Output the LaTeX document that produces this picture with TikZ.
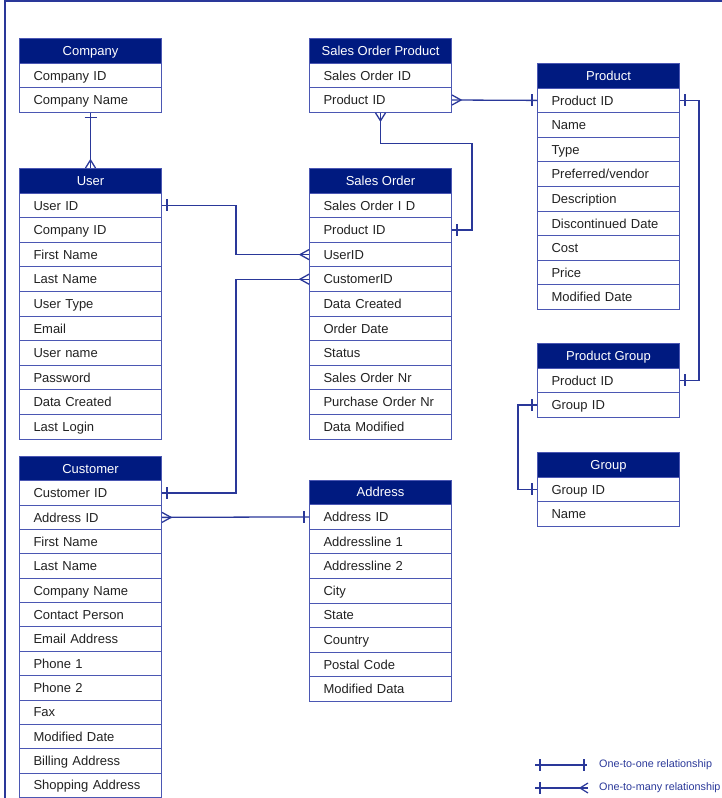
\documentclass[tikz,border=0pt]{standalone}
\usepackage{fontspec}
\setmainfont{Liberation Sans}
\usetikzlibrary{calc}
\definecolor{hdr}{HTML}{001A80}
\definecolor{bdr}{HTML}{4B57B3}
\definecolor{cn}{HTML}{2A3899}
\definecolor{txt}{HTML}{222222}
\newcommand\erStrut{\rule[-2.7pt]{0pt}{14.7pt}}
\newcommand\erTickV[1]{\draw[conn] #1 ++(0,-6) -- ++(0,12);}
\newcommand\erTickH[1]{\draw[conn] #1 ++(-6,0) -- ++(12,0);}
\newcommand\erCrowL[1]{\draw[conn] #1 ++(0,-5) -- ++(-9,5) -- ++(9,5);}
\newcommand\erCrowR[1]{\draw[conn] #1 ++(0,-5) -- ++(9,5) -- ++(-9,5);}
\newcommand\erCrowUp[1]{\draw[conn] #1 ++(-5,0) -- ++(5,-8) -- ++(5,8);}
\newcommand\erCrowDown[1]{\draw[conn] #1 ++(-5,0) -- ++(5,8) -- ++(5,-8);}
\newcommand\ertable[6]{%
  \node[hdrbox, minimum height=#5pt] (#1h) at (#2,#3) {#4};
  \foreach \t [count=\i] in {#6}
    \node[rowbox, minimum height=#5pt] (#1\i) at (#2,{#3+\i*#5}) {\t};
}
\begin{document}
\begin{tikzpicture}[x=1pt,y=-1pt,
  rowbox/.style={draw=bdr, line width=1pt, fill=white, text width=142pt,
    inner xsep=0pt, inner ysep=0pt, align=left, anchor=north west, text=txt,
    font=\fontsize{13}{15}\selectfont, execute at begin node=\hspace*{14pt}\erStrut},
  hdrbox/.style={draw=bdr, line width=1pt, fill=hdr, minimum width=142pt,
    inner sep=0pt, anchor=north west, text=white, font=\fontsize{13}{15}\selectfont,
    execute at begin node=\erStrut},
  conn/.style={draw=cn, line width=1.3pt},
  legtext/.style={anchor=west, text=cn, inner sep=0pt, font=\fontsize{10.8}{12}\selectfont}]
\useasboundingbox (0,0) rectangle (722,798);
\draw[cn, line width=1.2pt] (5,798) -- (5,1) -- (722,1);

\ertable{co}{19}{38}{Company}{24.6}{Company ID,Company Name}
\ertable{us}{19}{168}{User}{24.6}{User ID,Company ID,First Name,Last Name,User Type,Email,User name,Password,Data Created,Last Login}
\ertable{cu}{19}{456}{Customer}{24.35}{Customer ID,Address ID,First Name,Last Name,Company Name,Contact Person,Email Address,Phone 1,Phone 2,Fax,Modified Date,Billing Address,Shopping Address}
\ertable{sop}{309}{38}{Sales Order Product}{24.6}{Sales Order ID,Product ID}
\ertable{so}{309}{168}{Sales Order}{24.6}{Sales Order I D,Product ID,UserID,CustomerID,Data Created,Order Date,Status,Sales Order Nr,Purchase Order Nr,Data Modified}
\ertable{ad}{309}{479.5}{Address}{24.6}{Address ID,Addressline 1,Addressline 2,City,State,Country,Postal Code,Modified Data}
\ertable{pr}{537}{63}{Product}{24.6}{Product ID,Name,Type,Preferred/vendor,Description,Discontinued Date,Cost,Price,Modified Date}
\ertable{pg}{537}{343}{Product Group}{24.6}{Product ID,Group ID}
\ertable{gr}{537}{452}{Group}{24.6}{Group ID,Name}

% Company - User
\draw[conn] (co2.south) -- (ush.north);
\erTickH{($(co2.south)+(0,5)$)}
\erCrowUp{(ush.north)}
% User - Sales Order
\draw[conn] (us1.east) -- ++(74,0) |- (so3.west);
\erTickV{($(us1.east)+(5,0)$)}
\erCrowL{(so3.west)}
% Customer - Sales Order
\draw[conn] (cu1.east) -- ++(74,0) |- (so4.west);
\erTickV{($(cu1.east)+(5,0)$)}
\erCrowL{(so4.west)}
% Customer - Address
\draw[conn] (cu2.east) -- (ad1.west);
\erCrowR{(cu2.east)}
\erTickV{($(ad1.west)+(-5,0)$)}
% Sales Order Product - Sales Order
\draw[conn] (sop2.south) -- ++(0,31) -| ($(so2.east)+(20,0)$) -- (so2.east);
\erCrowDown{(sop2.south)}
\erTickV{($(so2.east)+(5,0)$)}
% Sales Order Product - Product
\draw[conn] (sop2.east) -- (pr1.west);
\erCrowR{(sop2.east)}
\erTickV{($(pr1.west)+(-5,0)$)}
% Product - Product Group
\draw[conn] (pr1.east) -- ++(19,0) |- (pg1.east);
\erTickV{($(pr1.east)+(5,0)$)}
\erTickV{($(pg1.east)+(5,0)$)}
% Product Group - Group
\draw[conn] (pg2.west) -- ++(-19,0) |- (gr1.west);
\erTickV{($(pg2.west)+(-5,0)$)}
\erTickV{($(gr1.west)+(-5,0)$)}

% Legend
\coordinate (la) at (535,765);
\coordinate (lb) at (587,765);
\coordinate (lc) at (535,788);
\coordinate (ld) at (588,788);
\draw[conn, line width=1.2pt] (la) -- (lb);
\draw[conn, line width=1.2pt] (lc) -- (ld);
\draw[conn, line width=1.2pt] ($(la)+(5,-6)$) -- ($(la)+(5,6)$);
\draw[conn, line width=1.2pt] ($(lb)+(-3,-6)$) -- ($(lb)+(-3,6)$);
\draw[conn, line width=1.2pt] ($(lc)+(5,-6)$) -- ($(lc)+(5,6)$);
\draw[conn, line width=1.2pt] ($(ld)+(0,-5)$) -- ($(ld)+(-8,0)$) -- ($(ld)+(0,5)$);
\node[legtext] (lt1) at (599,765) {One-to-one relationship};
\node[legtext] (lt2) at (599,788) {One-to-many relationship};
\end{tikzpicture}
\end{document}
